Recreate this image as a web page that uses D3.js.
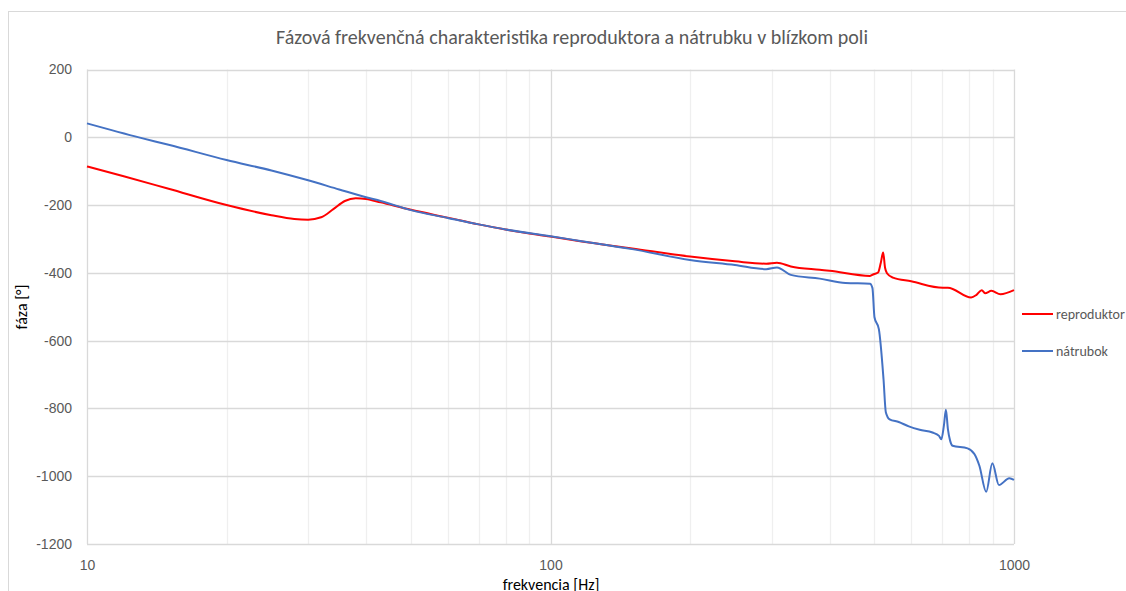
<!DOCTYPE html>
<html>
<head>
    <meta charset="utf-8">
    <title>Fázová frekvenčná charakteristika</title>
    <style>
        body {
            margin: 0;
            background: #ffffff;
        }

        svg {
            display: block;
            font-family: Carlito, "Liberation Sans Narrow", "Liberation Sans", Arial, sans-serif;
        }

        .axis text {
            fill: #595959;
            font-size: 14px;
        }
    </style>
    <script src="https://d3js.org/d3.v7.min.js"></script>
</head>
<body>
<div id="chart"></div>
<script>
    // hodnoty odčítané z grafu
    const xTicks = [10, 100, 1000];
    const yTicks = [-1200, -1000, -800, -600, -400, -200, 0, 200];

    const reproFreq = [10, 12, 15, 20, 25, 28, 30, 32, 34, 36, 38, 40, 43, 50, 60, 70, 80, 100, 115, 150, 200, 250,
        292, 308, 330, 381, 400, 489, 498, 509, 516, 522, 527, 532, 548, 600, 702, 720, 808, 830, 852, 866, 894, 935, 1000];
    const reproPhase = [-86, -115, -152, -200, -230, -241, -243, -236, -212, -188, -180, -182, -192, -214, -237, -257, -272, -293, -306, -328, -352, -366,
        -373, -370, -381, -391, -394, -409, -404, -399, -370, -340, -385, -401, -414, -425, -444, -444, -473, -465, -451, -460, -453, -463, -451];

    const natrFreq = [10, 13, 15, 20, 25, 30, 35, 40, 43, 50, 60, 70, 80, 100, 115, 150, 200, 250, 292, 308, 330, 381,
        433, 489, 495, 500, 511, 523, 529, 539, 564, 593, 626, 667, 689, 697, 706, 713, 720, 728, 737, 794, 822, 842, 871, 898, 928, 977, 1000];
    const natrPhase = [41, -1, -22, -67, -98, -127, -154, -177, -188, -215, -238, -257, -272, -292, -305, -330, -362, -377, -389, -384, -406, -417,
        -430, -432, -445, -531, -566, -714, -811, -832, -840, -853, -863, -871, -881, -891, -850, -804, -860, -895, -910, -918, -935, -969, -1046, -962, -1026, -1006, -1011];

    const seriesNames = ["reproduktor", "nátrubok"];
    const seriesColors = ["#ff0000", "#4472c4"];

    const width = 1126, height = 591;
    const svg = d3.select("#chart").append("svg")
        .attr("width", width)
        .attr("height", height);

    // rám celého grafu
    svg.append("rect")
        .attr("x", 8.5).attr("y", 11.5)
        .attr("width", 1200).attr("height", 700)
        .attr("fill", "#fff")
        .attr("stroke", "#d9d9d9");

    const x = d3.scaleLog().domain([10, 1000]).range([87, 1014]);
    const y = d3.scaleLinear().domain([-1200, 200]).range([544, 69.5]);

    // vedľajšia mriežka
    const minor = [];
    for (let dec = 10; dec < 1000; dec *= 10) {
        for (let k = 2; k <= 9; k++) minor.push(dec * k);
    }
    svg.append("g")
        .selectAll("line")
        .data(minor)
        .join("line")
        .attr("x1", d => Math.round(x(d)) + 0.5)
        .attr("x2", d => Math.round(x(d)) + 0.5)
        .attr("y1", y(200))
        .attr("y2", y(-1200))
        .attr("stroke", "#efefef")
        .attr("stroke-width", 1.3);

    svg.append("g")
        .selectAll("line")
        .data(xTicks)
        .join("line")
        .attr("x1", d => Math.round(x(d)) + 0.5)
        .attr("x2", d => Math.round(x(d)) + 0.5)
        .attr("y1", y(200))
        .attr("y2", y(-1200))
        .attr("stroke", "#d9d9d9")
        .attr("stroke-width", 1.3);

    svg.append("g")
        .selectAll("line")
        .data(yTicks)
        .join("line")
        .attr("x1", x(10))
        .attr("x2", x(1000))
        .attr("y1", d => Math.round(y(d)) + 0.5)
        .attr("y2", d => Math.round(y(d)) + 0.5)
        .attr("stroke", "#d9d9d9")
        .attr("stroke-width", 1.3);

    // osi
    const yAxis = svg.append("g")
        .attr("class", "axis")
        .attr("transform", "translate(82,0)")
        .call(d3.axisLeft(y).tickValues(yTicks).tickSize(0).tickPadding(10).tickFormat(d => String(d)));
    yAxis.select(".domain").remove();

    const xAxis = svg.append("g")
        .attr("class", "axis")
        .attr("transform", "translate(0,556)")
        .call(d3.axisBottom(x).tickValues(xTicks).tickSize(0).tickPadding(4).tickFormat(d => String(d)));
    xAxis.select(".domain").remove();

    // čiary
    const line = d3.line()
        .x(d => x(d[0]))
        .y(d => y(d[1]))
        .curve(d3.curveMonotoneX);

    const series = [
        d3.zip(reproFreq, reproPhase),
        d3.zip(natrFreq, natrPhase)
    ];

    svg.append("g")
        .selectAll("path")
        .data(series)
        .join("path")
        .attr("d", line)
        .attr("fill", "none")
        .attr("stroke", (d, i) => seriesColors[i])
        .attr("stroke-width", 2)
        .attr("stroke-linejoin", "round");

    // texty
    svg.append("text")
        .attr("x", 572)
        .attr("y", 44)
        .attr("text-anchor", "middle")
        .attr("fill", "#595959")
        .style("font-size", "20px")
        .text("Fázová frekvenčná charakteristika reproduktora a nátrubku v blízkom poli");

    svg.append("text")
        .attr("transform", "translate(27,307) rotate(-90)")
        .attr("text-anchor", "middle")
        .attr("fill", "#000")
        .style("font-size", "16px")
        .text("fáza [°]");

    svg.append("text")
        .attr("x", 551)
        .attr("y", 590)
        .attr("text-anchor", "middle")
        .attr("fill", "#000")
        .style("font-size", "16px")
        .text("frekvencia [Hz]");

    // legenda
    const legend = svg.append("g")
        .selectAll("g")
        .data(seriesNames)
        .join("g")
        .attr("transform", (d, i) => `translate(1022, ${314 + i * 37})`);

    legend.append("line")
        .attr("x1", 0).attr("x2", 31)
        .attr("y1", 0).attr("y2", 0)
        .attr("stroke", (d, i) => seriesColors[i])
        .attr("stroke-width", 2);

    legend.append("text")
        .attr("x", 34)
        .attr("y", 5)
        .attr("fill", "#595959")
        .style("font-size", "14px")
        .text(d => d);
</script>
</body>
</html>
